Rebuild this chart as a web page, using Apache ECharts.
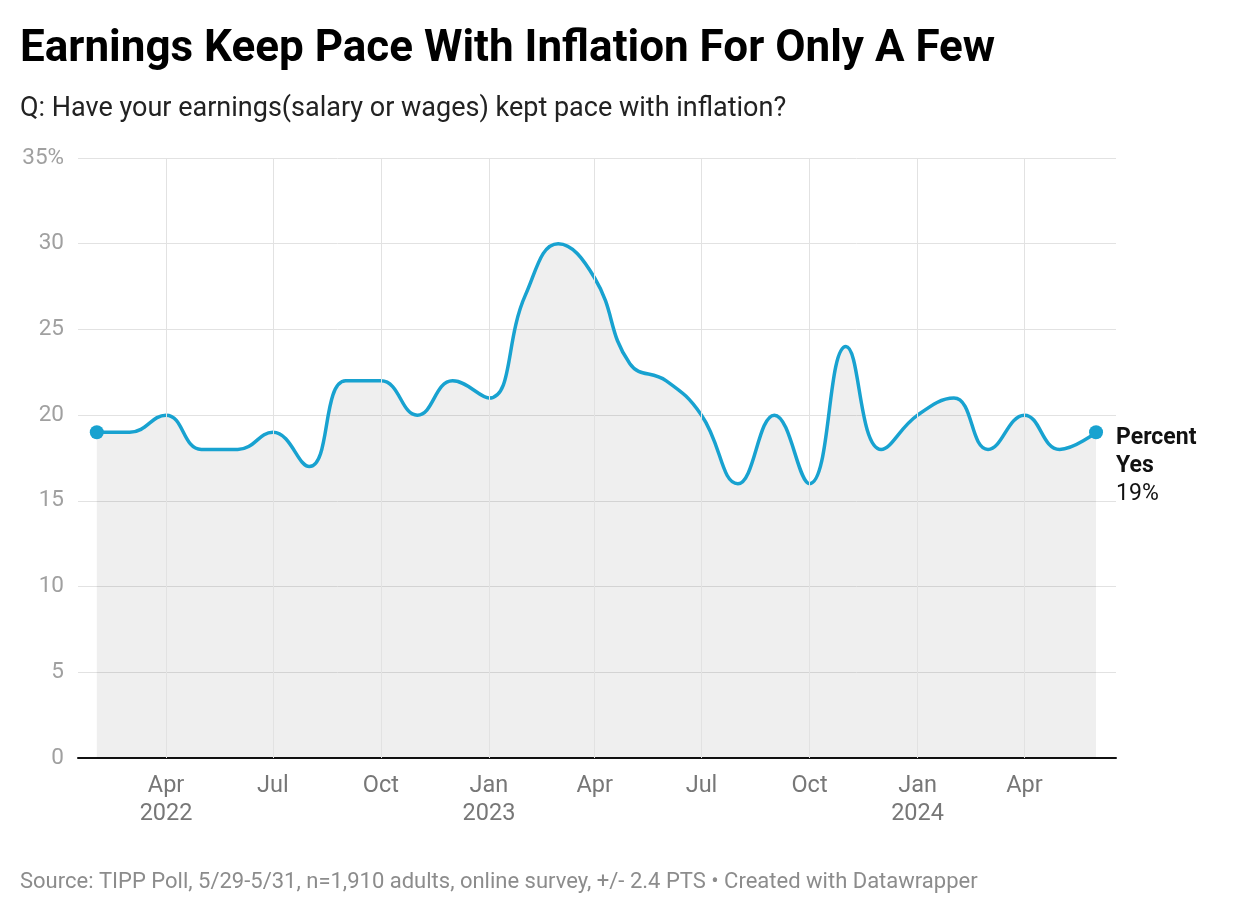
<!DOCTYPE html>
<html>
<head>
<meta charset="utf-8">
<script src="https://cdn.jsdelivr.net/npm/echarts@6/dist/echarts.min.js"></script>
<style>
html,body{margin:0;padding:0;background:#fff;}
#chart{width:1240px;height:914px;}
</style>
</head>
<body>
<div id="chart"></div>
<script>
const months = [
  '2022-02-01','2022-03-01','2022-04-01','2022-05-01','2022-06-01','2022-07-01','2022-08-01','2022-09-01','2022-10-01','2022-11-01','2022-12-01',
  '2023-01-01','2023-02-01','2023-03-01','2023-04-01','2023-05-01','2023-06-01','2023-07-01','2023-08-01','2023-09-01','2023-10-01','2023-11-01','2023-12-01',
  '2024-01-01','2024-02-01','2024-03-01','2024-04-01','2024-05-01','2024-06-01'
];
const percentYes = [
  19,19,20,18,18,19,17,22,22,20,22,
  21,27,30,28,23,22,20,16,20,16,24,18,
  20,21,18,20,18,19
];
const tickDates = ['2022-04-01','2022-07-01','2022-10-01','2023-01-01','2023-04-01','2023-07-01','2023-10-01','2024-01-01','2024-04-01'];
const yTicks = [0,5,10,15,20,25,30,35];
const monthNames = ['Jan','Feb','Mar','Apr','May','Jun','Jul','Aug','Sep','Oct','Nov','Dec'];

function ts(s){ const p = s.split('-').map(Number); return Date.UTC(p[0], p[1]-1, p[2]); }
const tickTs = tickDates.map(ts);
const seriesData = months.map((m,i)=>[ts(m), percentYes[i]]);
const lastIdx = seriesData.length - 1;

const chart = echarts.init(document.getElementById('chart'));
const option = {
  backgroundColor: '#fff',
  animation: false,
  textStyle: { fontFamily: 'Roboto' },
  title: [
    { text: 'Earnings Keep Pace With Inflation For Only A Few', left: 15, top: 23,
      textStyle: { fontFamily: 'Roboto', fontWeight: 'bold', fontSize: 44, color: '#000' } },
    { text: 'Q: Have your earnings(salary or wages) kept pace with inflation?', left: 15, top: 91,
      textStyle: { fontFamily: 'Roboto', fontWeight: 'normal', fontSize: 27, color: '#222' } },
    { text: 'Source: TIPP Poll, 5/29-5/31, n=1,910 adults, online survey, +/- 2.4 PTS \u2022 Created with Datawrapper', left: 15, top: 866,
      textStyle: { fontFamily: 'Roboto', fontWeight: 'normal', fontSize: 22, color: '#8c8c8c' } }
  ],
  grid: { left: 78, right: 124, top: 158, bottom: 156, containLabel: false },
  xAxis: {
    type: 'value',
    min: ts('2022-01-16'),
    max: ts('2024-06-18'),
    axisLine: { show: true, onZero: false, lineStyle: { color: '#111', width: 2 } },
    axisTick: { show: false },
    splitLine: { show: false },
    axisLabel: {
      customValues: tickTs,
      color: '#777', fontSize: 23.5, lineHeight: 28, margin: 14, hideOverlap: false,
      formatter: function(v){
        const d = new Date(v);
        const m = monthNames[d.getUTCMonth()];
        if (d.getUTCMonth() === 0 || v === tickTs[0]) return m + '\n' + d.getUTCFullYear();
        return m;
      }
    }
  },
  yAxis: {
    type: 'value', min: 0, max: 35, interval: 5,
    axisLine: { show: false }, axisTick: { show: false },
    splitLine: { show: true, lineStyle: { color: '#e2e2e2', width: 1 } },
    axisLabel: {
      color: '#a0a0a0', fontSize: 22.5, margin: 14,
      formatter: function(v){ return v === 35 ? '35%' : String(v); }
    }
  },
  series: [
    {
      type: 'line', z: 1, data: [[tickTs[0], null]], silent: true, showSymbol: false,
      markLine: {
        silent: true, symbol: 'none', label: { show: false },
        lineStyle: { color: '#e2e2e2', width: 1, type: 'solid' },
        data: tickTs.map(t => ({ xAxis: t }))
      }
    },
    {
      type: 'line', z: 3,
      data: seriesData,
      smooth: 0.45,
      showSymbol: true,
      symbol: 'circle',
      symbolSize: function(val, params){ return (params.dataIndex === 0 || params.dataIndex === lastIdx) ? 14 : 0; },
      itemStyle: { color: '#18a2d0' },
      lineStyle: { color: '#18a2d0', width: 3.5 },
      areaStyle: { color: '#000', opacity: 0.063 },
      endLabel: {
        show: true,
        distance: 20,
        offset: [0, 34],
        align: 'left',
        formatter: function(p){ return '{b|Percent}\n{b|Yes}\n{n|' + p.value[1] + '%}'; },
        rich: {
          b: { fontFamily: 'Roboto', fontWeight: 'bold', fontSize: 23, color: '#111', lineHeight: 28 },
          n: { fontFamily: 'Roboto', fontWeight: 'normal', fontSize: 23, color: '#111', lineHeight: 28 }
        }
      }
    }
  ]
};
chart.setOption(option);
</script>
</body>
</html>
